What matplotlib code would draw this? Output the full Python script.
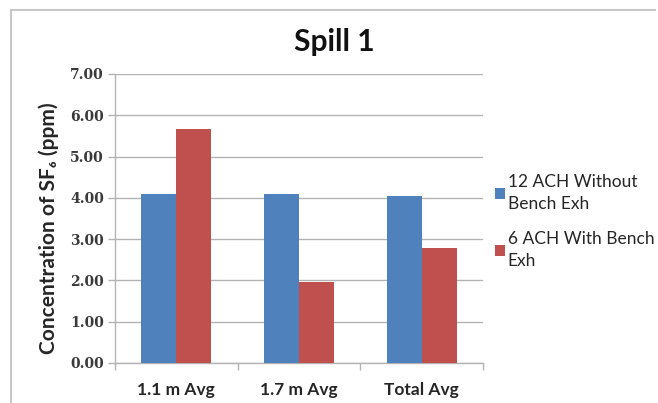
# -------------------------------------------------------------------------------------
# Libraries
import numpy as np
import matplotlib
matplotlib.use('Agg')
import matplotlib.pyplot as plt
from matplotlib.lines import Line2D
# -------------------------------------------------------------------------------------

# -------------------------------------------------------------------------------------
# Data
categories = ['1.1 m Avg', '1.7 m Avg', 'Total Avg']
series_names = ['12 ACH Without\nBench Exh', '6 ACH With Bench\nExh']
values_12ach = [4.09, 4.09, 4.05]
values_6ach = [5.66, 1.95, 2.78]
y_ticks = [0.0, 1.0, 2.0, 3.0, 4.0, 5.0, 6.0, 7.0]
# -------------------------------------------------------------------------------------

# -------------------------------------------------------------------------------------
# Style
color_blue = '#4F81BD'
color_red = '#C0504D'
color_grid = '#B3B3B3'
color_text = '#262626'
plt.rcParams['font.family'] = ['Lato', 'DejaVu Sans']
# -------------------------------------------------------------------------------------

# -------------------------------------------------------------------------------------
# Figure
fig = plt.figure(figsize=(6.58, 4.03), dpi=100)
ax = fig.add_axes([0.1748, 0.0993, 0.5592, 0.7171])

x_pos = np.arange(len(categories))
bar_w = 0.285
ax.bar(x_pos - bar_w / 2, values_12ach, width=bar_w, color=color_blue,
       label=series_names[0], zorder=3)
ax.bar(x_pos + bar_w / 2, values_6ach, width=bar_w, color=color_red,
       label=series_names[1], zorder=3)

ax.set_xlim(-0.5, len(categories) - 0.5)
ax.set_ylim(0, 7)
ax.set_yticks(y_ticks)
ax.set_yticklabels(['%.2f' % v for v in y_ticks], family='DejaVu Serif',
                   fontsize=10, fontweight='bold', color='#3a3a3a')
ax.set_xticks(x_pos)
ax.set_xticklabels(categories, fontsize=12.5, fontweight='bold', color=color_text)
ax.set_xticks(np.arange(-0.5, len(categories), 1.0), minor=True)
ax.tick_params(axis='x', which='major', length=0, pad=14)
ax.tick_params(axis='x', which='minor', length=5, color=color_grid, width=1)
ax.tick_params(axis='y', length=5, color=color_grid, width=1, pad=3)

ax.grid(axis='y', color=color_grid, linewidth=1, zorder=0)
for side in ['top', 'right']:
    ax.spines[side].set_visible(False)
for side in ['left', 'bottom']:
    ax.spines[side].set_color(color_grid)
    ax.spines[side].set_linewidth(1)

ax.set_ylabel('Concentration of SF\u2086 (ppm)', fontsize=15, fontweight='bold',
              color=color_text)
ax.yaxis.set_label_coords(-0.152, 0.465)
fig.text(334 / 658, 1 - 42 / 403, 'Spill 1', fontsize=21.5, fontweight='bold',
         color='#111111', ha='center', va='center')

leg = ax.legend(loc='upper left', bbox_to_anchor=(0.753, 0.568), bbox_transform=fig.transFigure,
                frameon=False, fontsize=12.5, handlelength=0.55, handleheight=0.55,
                handletextpad=0.15, labelspacing=1.1, borderaxespad=0, borderpad=0)
for txt in leg.get_texts():
    txt.set_linespacing(1.45)
    txt.set_color(color_text)

# chart area border (left and top only, as in the scan)
fig.add_artist(Line2D([11 / 658, 11 / 658], [0, 1 - 10 / 403], transform=fig.transFigure,
                      color='#C8C8C8', linewidth=1.5))
fig.add_artist(Line2D([11 / 658, 655 / 658], [1 - 10 / 403, 1 - 10 / 403], transform=fig.transFigure,
                      color='#C8C8C8', linewidth=1.5))

fig.savefig('out.png', dpi=100)
# -------------------------------------------------------------------------------------
